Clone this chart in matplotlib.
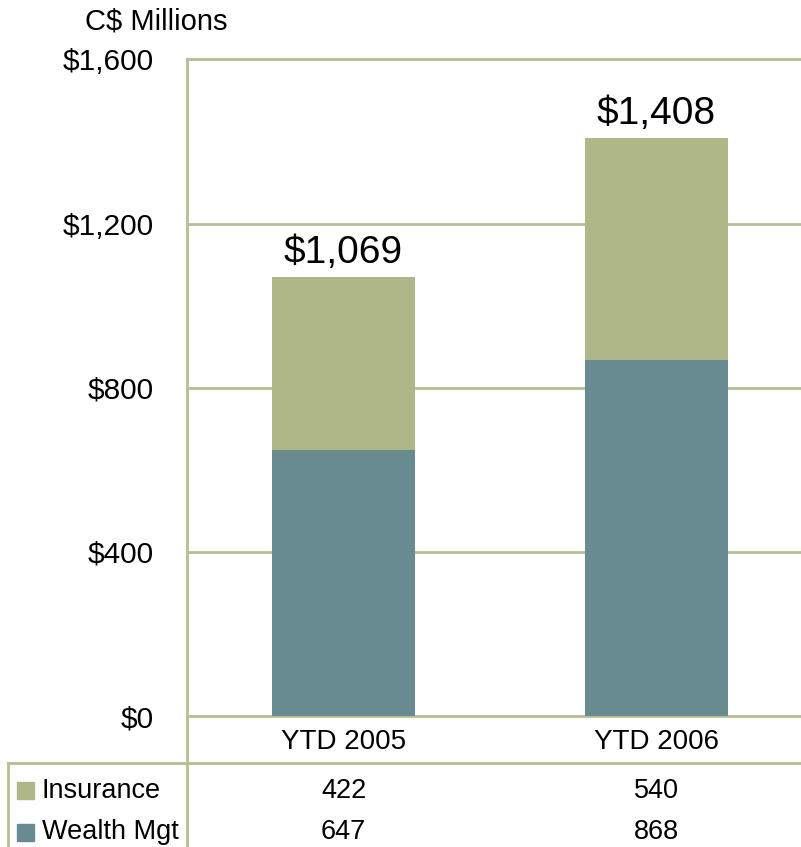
import matplotlib
matplotlib.use("Agg")
import matplotlib.pyplot as plt
from matplotlib.patches import Rectangle
from matplotlib.lines import Line2D
from matplotlib.transforms import blended_transform_factory

plt.rcParams['font.family'] = ['Liberation Sans', 'DejaVu Sans']

categories = ["YTD 2005", "YTD 2006"]
wealth_mgt = [647, 868]
insurance = [422, 540]
totals = ["$1,069", "$1,408"]
yticks = [0, 400, 800, 1200, 1600]
ytick_labels = ["$0", "$400", "$800", "$1,200", "$1,600"]
series_names = ["Insurance", "Wealth Mgt"]

W, H = 801, 847
fig = plt.figure(figsize=(W / 100, H / 100), dpi=100)

def fx(px):
    return px / W

def fy(py):
    return 1 - py / H

c_ins = "#AFB688"
c_wm = "#688A91"
c_line = "#B7BE93"

left, right, bottom, top = 187, 813, 716, 59.4
ax = fig.add_axes([fx(left), fy(bottom), (right - left) / W, (bottom - top) / H])

x = list(range(len(categories)))
ax.bar(x, wealth_mgt, width=0.455, color=c_wm, zorder=3)
ax.bar(x, insurance, width=0.455, bottom=wealth_mgt, color=c_ins, zorder=3)

ax.set_xlim(-0.5, 1.5)
ax.set_ylim(0, 1600)
ax.set_yticks(yticks)
ax.set_yticklabels(ytick_labels, fontsize=21.5)
ax.set_xticks(x)
ax.set_xticklabels(categories, fontsize=20)
ax.tick_params(axis='both', length=0)
ax.tick_params(axis='y', pad=24)
ax.tick_params(axis='x', pad=9)
for yv in yticks:
    ax.axhline(yv, color=c_line, linewidth=2, zorder=1, clip_on=False)
for s in ['top', 'right', 'bottom', 'left']:
    ax.spines[s].set_visible(False)

for i in x:
    tot = wealth_mgt[i] + insurance[i]
    ax.annotate(totals[i], (i, tot), xytext=(0, 10.5), textcoords='offset points',
                ha='center', va='baseline', fontsize=28)

fig.text(fx(156.5), fy(21), "C$ Millions", fontsize=21, ha='center', va='center')

# axis / table lines
fig.add_artist(Line2D([fx(187), fx(187)], [fy(59), 0], color=c_line, lw=2, transform=fig.transFigure))
fig.add_artist(Line2D([fx(8), 1], [fy(762.7), fy(762.7)], color=c_line, lw=2, transform=fig.transFigure))
fig.add_artist(Line2D([fx(8), fx(8)], [fy(762.7), 0], color=c_line, lw=2, transform=fig.transFigure))

# table rows
trans = blended_transform_factory(ax.transData, fig.transFigure)
rows = [(insurance, c_ins, series_names[0], 790.5), (wealth_mgt, c_wm, series_names[1], 832)]
for vals, col, name, py in rows:
    fig.add_artist(Rectangle((fx(17), fy(py + 8.5)), 17 / W, 17 / H, color=col,
                             transform=fig.transFigure))
    fig.text(fx(42), fy(py), name, fontsize=19.5, ha='left', va='center')
    for i in x:
        fig.text(i, fy(py), f"{vals[i]}", fontsize=19.5, ha='center', va='center',
                 transform=trans)

fig.savefig("out.png", dpi=100)
